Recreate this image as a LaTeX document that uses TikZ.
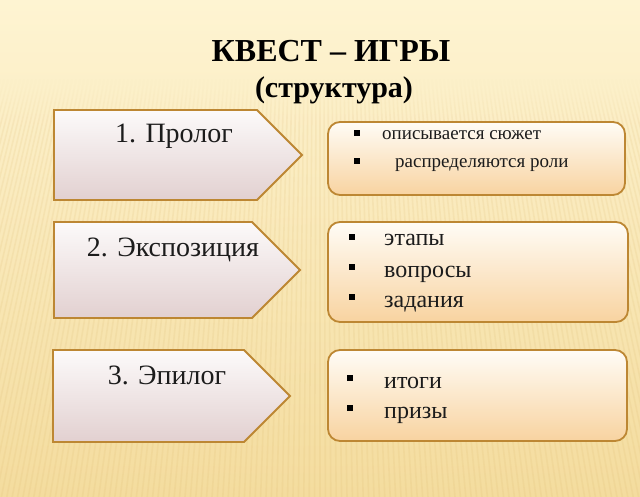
\documentclass[tikz,border=0pt]{standalone}
\usepackage{fontspec}
\setmainfont{Liberation Serif}
\usetikzlibrary{fadings}
\definecolor{bgtop}{HTML}{FEF4D2}
\definecolor{bgbot}{HTML}{F4DC9E}
\definecolor{stripe}{HTML}{D9B56A}
\definecolor{brd}{HTML}{BD8733}
\definecolor{atop}{HTML}{FCFAFA}
\definecolor{abot}{HTML}{E2D0D0}
\definecolor{btop}{HTML}{FFFCF6}
\definecolor{bbot}{HTML}{F8D3A0}
\definecolor{txt}{HTML}{1C1C1C}
\begin{document}
\begin{tikzpicture}[x=1pt,y=-1pt,
  arrowshape/.style={draw=brd,line width=1.8pt,top color=atop,bottom color=abot,line join=miter},
  boxshape/.style={draw=brd,line width=1.8pt,top color=btop,bottom color=bbot,rounded corners=12pt},
  titletext/.style={inner sep=0pt,anchor=base,font=\bfseries\fontsize{32}{34}\selectfont,text=black},
  steptext/.style={inner sep=0pt,anchor=base,font=\fontsize{28}{30}\selectfont,text=txt},
  itemtext/.style={inner sep=0pt,anchor=base west,font=\fontsize{24}{26}\selectfont,text=txt},
  smalltext/.style={inner sep=0pt,anchor=base west,font=\fontsize{19}{21}\selectfont,text=txt},
  bul/.style={fill=black,minimum size=6.5pt,inner sep=0pt}]
\useasboundingbox (0,0) rectangle (640,497);
% background
\shade[top color=bgtop,bottom color=bgbot] (0,0) rectangle (640,497);
\begin{scope}
\clip (0,80) rectangle (640,497);
\foreach \i in {-60,...,220}{
  \draw[stripe,opacity=0.14,line width=1.6pt] ({320+\i*4-440},80) -- ({320+(\i*4-440)*1.35},497);
}
\end{scope}
\fill[bgbot!18!bgtop,path fading=south] (0,79) rectangle (640,125);
% titles
\node[titletext] (title) at (331,62) {КВЕСТ – ИГРЫ};
\node[titletext,font=\bfseries\fontsize{30}{32}\selectfont] (subtitle) at (334,98) {(структура)};
% left arrows
\draw[arrowshape] (54,110) -- (257,110) -- (302,155) -- (257,200) -- (54,200) -- cycle;
\draw[arrowshape] (54,222) -- (252,222) -- (300,270) -- (252,318) -- (54,318) -- cycle;
\draw[arrowshape] (53,350) -- (244,350) -- (290,396) -- (244,442) -- (53,442) -- cycle;
\node[steptext] (s1) at (174,143) {1. Пролог};
\node[steptext] (s2) at (173,256) {2. Экспозиция};
\node[steptext] (s3) at (167,384) {3. Эпилог};
% right boxes
\draw[boxshape] (328,122) rectangle (625,195);
\draw[boxshape] (328,222) rectangle (628,322);
\draw[boxshape] (328,350) rectangle (627,441);
% box 1 items
\node[bul] (b11) at (357,133) {};
\node[smalltext] (t11) at (382,140) {описывается сюжет};
\node[bul] (b12) at (357,161) {};
\node[smalltext] (t12) at (395,168) {распределяются роли};
% box 2 items
\node[bul] (b21) at (352,237) {};
\node[itemtext] (t21) at (384,246) {этапы};
\node[bul] (b22) at (352,267) {};
\node[itemtext] (t22) at (384,277) {вопросы};
\node[bul] (b23) at (352,297) {};
\node[itemtext] (t23) at (384,307) {задания};
% box 3 items
\node[bul] (b31) at (350,378) {};
\node[itemtext] (t31) at (384,388) {итоги};
\node[bul] (b32) at (350,408) {};
\node[itemtext] (t32) at (384,418) {призы};
\end{tikzpicture}
\end{document}
